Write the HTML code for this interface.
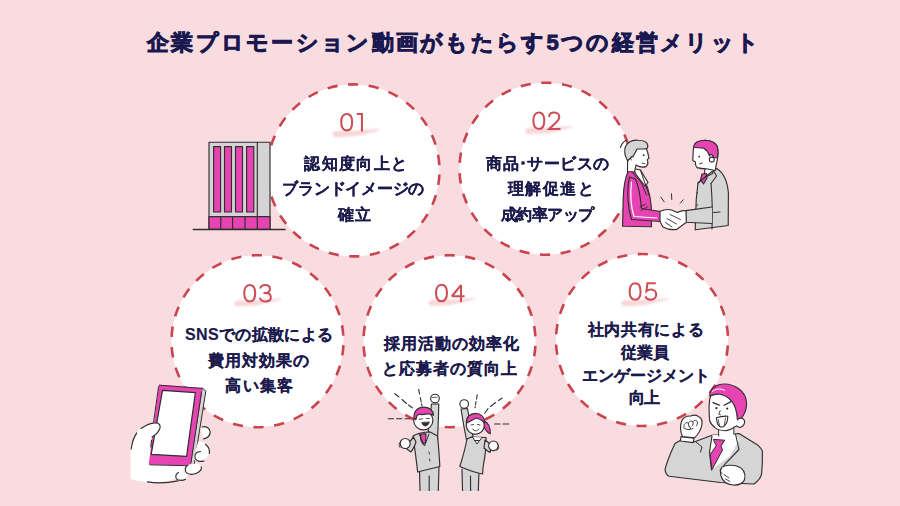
<!DOCTYPE html>
<html lang="ja">
<head>
<meta charset="utf-8">
<style>
html,body{margin:0;padding:0;}
body{width:900px;height:506px;overflow:hidden;position:relative;background:#f8dcdf;font-family:"Liberation Sans",sans-serif;}
#bg{position:absolute;left:0;top:0;}
.title{position:absolute;font-size:22px;line-height:30px;font-weight:700;color:#1a1850;letter-spacing:2.2px;-webkit-text-stroke:0.9px #1a1850;white-space:nowrap;}
.num{position:absolute;font-size:27.5px;line-height:30px;color:#c9464f;white-space:nowrap;}
.ln{position:absolute;font-size:16px;line-height:25px;font-weight:700;color:#1c1a4d;-webkit-text-stroke:0.15px #1c1a4d;white-space:nowrap;}
#fg{position:absolute;left:0;top:0;}
</style>
</head>
<body>
<svg id="bg" width="900" height="506" viewBox="0 0 900 506">
  <defs>
    <filter id="blur" x="-20%" y="-50%" width="140%" height="200%"><feGaussianBlur stdDeviation="0.8"/></filter>
  </defs>
  <g fill="#fff" stroke="#c9444e" stroke-width="2.6" stroke-dasharray="10.3 10.48">
    <circle cx="353.5" cy="170.4" r="86" stroke-dashoffset="16.54"/>
    <circle cx="545.5" cy="168.7" r="86" stroke-dashoffset="15.29"/>
    <circle cx="257.5" cy="341.2" r="86" stroke-dashoffset="16.79"/>
    <circle cx="449.5" cy="341.2" r="86" stroke-dashoffset="16.04"/>
    <circle cx="642" cy="340" r="86" stroke-dashoffset="15.29"/>
  </g>
  <!-- brush strokes under numbers -->
  <g filter="url(#blur)">
    <g transform="translate(332.3 128.5)"><path d="M0.5 5.5C0.5 3.5 2 2.8 6 2.6L30 2C38 1.2 44 0.5 48 1C47 2.5 42 3.5 36 4.5L28 6.5C20 8.2 10 8.8 3 8.5C1.2 8.2 0.5 7 0.5 5.5Z" fill="#f3b2b4" opacity="0.62"/><path d="M2 4.2L30 3.6M3 6.3L26 5.6M5 7.6L18 7.2M33 3.1L45 1.6" stroke="#fff" stroke-width="0.7" opacity="0.45" fill="none"/></g>
    <g transform="translate(525 125.5)"><path d="M0.5 5.5C0.5 3.5 2 2.8 6 2.6L30 2C38 1.2 44 0.5 48 1C47 2.5 42 3.5 36 4.5L28 6.5C20 8.2 10 8.8 3 8.5C1.2 8.2 0.5 7 0.5 5.5Z" fill="#f3b2b4" opacity="0.62"/><path d="M2 4.2L30 3.6M3 6.3L26 5.6M5 7.6L18 7.2M33 3.1L45 1.6" stroke="#fff" stroke-width="0.7" opacity="0.45" fill="none"/></g>
    <g transform="translate(234 297.8)"><path d="M0.5 5.5C0.5 3.5 2 2.8 6 2.6L30 2C38 1.2 44 0.5 48 1C47 2.5 42 3.5 36 4.5L28 6.5C20 8.2 10 8.8 3 8.5C1.2 8.2 0.5 7 0.5 5.5Z" fill="#f3b2b4" opacity="0.62"/><path d="M2 4.2L30 3.6M3 6.3L26 5.6M5 7.6L18 7.2M33 3.1L45 1.6" stroke="#fff" stroke-width="0.7" opacity="0.45" fill="none"/></g>
    <g transform="translate(428.3 297.3)"><path d="M0.5 5.5C0.5 3.5 2 2.8 6 2.6L30 2C38 1.2 44 0.5 48 1C47 2.5 42 3.5 36 4.5L28 6.5C20 8.2 10 8.8 3 8.5C1.2 8.2 0.5 7 0.5 5.5Z" fill="#f3b2b4" opacity="0.62"/><path d="M2 4.2L30 3.6M3 6.3L26 5.6M5 7.6L18 7.2M33 3.1L45 1.6" stroke="#fff" stroke-width="0.7" opacity="0.45" fill="none"/></g>
    <g transform="translate(621 297.6)"><path d="M0.5 5.5C0.5 3.5 2 2.8 6 2.6L30 2C38 1.2 44 0.5 48 1C47 2.5 42 3.5 36 4.5L28 6.5C20 8.2 10 8.8 3 8.5C1.2 8.2 0.5 7 0.5 5.5Z" fill="#f3b2b4" opacity="0.62"/><path d="M2 4.2L30 3.6M3 6.3L26 5.6M5 7.6L18 7.2M33 3.1L45 1.6" stroke="#fff" stroke-width="0.7" opacity="0.45" fill="none"/></g>
  </g>
  <g fill="none" stroke="#ce4d56" stroke-width="2.05">
    <g transform="translate(340.2 112.9)"><path d="M6.5 1.05C10.4 1.05 11.95 4.6 11.95 9.25C11.95 13.9 10.4 17.45 6.5 17.45C2.6 17.45 1.05 13.9 1.05 9.25C1.05 4.6 2.6 1.05 6.5 1.05Z"/></g>
    <g transform="translate(356.8 112.9)"><path d="M0 1.05H5.15V18.5"/></g>
    <g transform="translate(532.3 111.5)"><path d="M6.5 1.05C10.4 1.05 11.95 4.6 11.95 9.25C11.95 13.9 10.4 17.45 6.5 17.45C2.6 17.45 1.05 13.9 1.05 9.25C1.05 4.6 2.6 1.05 6.5 1.05Z"/></g>
    <g transform="translate(547.7 111.5)"><path d="M1.3 5.3C1.5 2.6 3.7 1.05 6.6 1.05C9.6 1.05 11.6 3 11.6 5.4C11.6 7.7 10.2 9.2 8.4 10.9L1.4 17.4H12.8"/></g>
    <g transform="translate(243.2 284.0)"><path d="M6.5 1.05C10.4 1.05 11.95 4.6 11.95 9.25C11.95 13.9 10.4 17.45 6.5 17.45C2.6 17.45 1.05 13.9 1.05 9.25C1.05 4.6 2.6 1.05 6.5 1.05Z"/></g>
    <g transform="translate(258.9 284.0)"><path d="M1.2 4.6C1.8 2.4 3.9 1.05 6.4 1.05C9.3 1.05 11 2.8 11 5C11 7.4 9.1 8.9 6.4 8.9H4.6M6.4 8.9C9.7 8.9 11.9 10.6 11.9 13.2C11.9 15.8 9.6 17.4 6.4 17.4C3.6 17.4 1.6 15.9 1 13.7"/></g>
    <g transform="translate(435 283.8)"><path d="M6.5 1.05C10.4 1.05 11.95 4.6 11.95 9.25C11.95 13.9 10.4 17.45 6.5 17.45C2.6 17.45 1.05 13.9 1.05 9.25C1.05 4.6 2.6 1.05 6.5 1.05Z"/></g>
    <g transform="translate(450.6 283.8)"><path stroke-linejoin="bevel" d="M10.4 18.4V1.3L1.3 12.45H14"/></g>
    <g transform="translate(628.6 282.3)"><path d="M6.5 1.05C10.4 1.05 11.95 4.6 11.95 9.25C11.95 13.9 10.4 17.45 6.5 17.45C2.6 17.45 1.05 13.9 1.05 9.25C1.05 4.6 2.6 1.05 6.5 1.05Z"/></g>
    <g transform="translate(644.2 282.3)"><path d="M11.6 1.05H3.2L2.2 8.9C3.5 7.8 5 7.2 6.8 7.2C10 7.2 12 9.4 12 12.3C12 15.4 9.7 17.4 6.5 17.4C4 17.4 2 16.1 1.1 14.1"/></g>
  </g>
</svg>

<div class="title" style="left:147.1px;top:28.1px;letter-spacing:2.28px">企業プロモーション動画がもたらす5つの経営メリット</div>




<div class="ln" style="left:304.3px;top:151.3px;letter-spacing:1.34px">認知度向上と</div>
<div class="ln" style="left:282.4px;top:176.1px;letter-spacing:-0.26px">ブランドイメージの</div>
<div class="ln" style="left:338.1px;top:202px;letter-spacing:1.0px">確立</div>
<div class="ln" style="left:486.4px;top:151.3px;letter-spacing:0.36px">商品･サービスの</div>
<div class="ln" style="left:508.1px;top:175.9px;letter-spacing:1.38px">理解促進と</div>
<div class="ln" style="left:500.5px;top:201.5px;letter-spacing:-0.46px">成約率アップ</div>
<div class="ln" style="left:185px;top:322.2px;letter-spacing:0.34px">SNSでの拡散による</div>
<div class="ln" style="left:208.1px;top:347.5px;letter-spacing:0.98px">費用対効果の</div>
<div class="ln" style="left:225.3px;top:373.2px;letter-spacing:1.23px">高い集客</div>
<div class="ln" style="left:383.5px;top:330.8px;letter-spacing:1.0px">採用活動の効率化</div>
<div class="ln" style="left:382.2px;top:355.8px;letter-spacing:0.94px">と応募者の質向上</div>
<div class="ln" style="left:587.5px;top:317px;letter-spacing:0.68px">社内共有による</div>
<div class="ln" style="left:620.5px;top:340px;letter-spacing:0.25px">従業員</div>
<div class="ln" style="left:581.7px;top:363px;letter-spacing:0.1px">エンゲージメント</div>
<div class="ln" style="left:628.7px;top:385.1px;letter-spacing:-0.3px">向上</div>

<svg id="fg" width="900" height="506" viewBox="0 0 900 506">
<g stroke="#332d2e" stroke-width="1.15" stroke-linejoin="round" stroke-linecap="round">
  <!-- building -->
  <g id="building">
    <rect x="209" y="142.2" width="61" height="87" fill="#d4d4d6"/>
    <rect x="209" y="216.6" width="61" height="12.6" fill="#e644b2"/>
    <path d="M257.3 142.2V229.2M220.8 216.6V229.2M232.6 216.6V229.2M245 216.6V229.2" fill="none"/>
    <g fill="#e644b2">
      <rect x="213.6" y="146.6" width="7" height="65.4"/>
      <rect x="224.5" y="146.6" width="7" height="65.4"/>
      <rect x="235.5" y="146.6" width="7" height="65.4"/>
      <rect x="246.6" y="146.6" width="7.2" height="65.4"/>
    </g>
    <path d="M193.3 229.4H285" fill="none" stroke-width="1.5"/>
  </g>

  <!-- phone in hand -->
  <g id="phone">
    <!-- palm (behind phone) -->
    <path d="M130.5 447 C131.5 440 134 434.5 138 431 C142 428 147 426 152 424.5 L170 440 L186 462 L182 476 C172 481 160 483 148 482 C141 481.5 135.5 480.5 130.5 479 Z" fill="#fff" stroke="none"/>
    <path d="M138 431.5 C134 436 132 442 131.2 449" fill="none" stroke-width="1.2"/>
    <path d="M147.5 481.8 C157 483.5 168 483 178 480.8" fill="none" stroke-width="1.2"/>
    <!-- phone side (gray) -->
    <path d="M202.5 388 L205.8 391.3 L193.8 466.5 L190.5 465.5 Z" fill="#d5d5d6" stroke-width="1"/>
    <!-- phone body -->
    <path d="M159 384.8 L202.5 388 L190.5 465.5 L148.7 464.5 Z" fill="#e644b2" stroke="none"/>
    <path d="M162.5 390.4 L195.4 392.6 L186.6 456.3 L151.2 454.4 Z" fill="#fff" stroke-width="1.2"/>
    <path d="M159.5 385.2 L202 388.4 M158.6 386.5 L152.5 430 M191 463 L201.5 392" fill="none" stroke-width="1"/>
    <path d="M150 464.8 L189.5 465.8" fill="none" stroke-width="1"/>
    <!-- thumb -->
    <path d="M137 431.5 C143 426.5 149.5 423.5 155 422.8 C159 422.5 161 425.5 159.5 429 C158 433 154.5 436 151.5 437.5 L150.5 445 C145 446 139 442 137 437 Z" fill="#fff" stroke="none"/>
    <path d="M141 428.5 C146 425 151 423 155 422.8 C159 422.5 161.2 425.5 159.8 428.8 C158.5 432 155.5 435 152 437" fill="none" stroke-width="1.2"/>
    <path d="M151.5 440 L150.8 447" fill="none" stroke-width="1.1"/>
    <!-- fingers -->
    <path d="M200.5 427.5 C204.5 425.5 209 427 210.2 431 C211 435.5 207.5 439 203.5 439 Z" fill="#fff" stroke="none"/>
    <path d="M202 427 C206.5 425.8 210 428.5 210.2 432 C210.3 435.8 207 438.5 203.5 438.8" fill="none" stroke-width="1.2"/>
    <path d="M198 442 C203 441 208.5 443.5 209.5 448.5 C210.5 453.5 207 458.5 203 460 C199 462 194.5 461.5 193.5 458 Z" fill="#fff" stroke="none"/>
    <path d="M205.5 444.2 C208.5 446.5 209.8 450 209.3 453.3" fill="none" stroke-width="1.2"/>
    <path d="M200.5 451.5 C196.5 451.5 194 454.5 195 458 C196 461 200 462.2 204 461" fill="none" stroke-width="1.2"/>
    <path d="M186 466 C190 463.5 197 463 201.5 465.5 C203 468.5 199 473 193 474.8 C188 476 184.5 473 184.5 470 Z" fill="#fff" stroke="none"/>
    <path d="M188 465 C185.5 466.5 184.5 469.5 186 472 C188 475 193.5 475 197 473 C200 471.5 202 469 201.2 466.8" fill="none" stroke-width="1.2"/>
    <path d="M176 473.5 C180 471.5 185 472 187 475 C188 478 185.5 480 182 480.5 C178.5 481 175.5 479.5 175 477 Z" fill="#fff" stroke="none"/>
    <path d="M178.5 472.5 C175.8 473.8 175 476.8 176.5 478.8 C178.5 481 183 480.8 185.5 479.2" fill="none" stroke-width="1.2"/>
  </g>

  <!-- cheering people -->
  <g id="cheer">
    <!-- motion lines left -->
    <path d="M394.8 393.7 L399 397 M402 399.5 L406.5 403.5 M408.5 405 L412.2 407.8" fill="none" stroke-width="1.1"/>
    <path d="M418.7 389.3 L419.5 394 M420.3 397.5 L421.2 402 M421.5 404 L422 405.7" fill="none" stroke-width="1.1"/>
    <path d="M388.3 418.7 L393.5 418.7 M396.5 418.7 L402 418.7 M405 418.7 L410 418.7" fill="none" stroke-width="1.1"/>
    <!-- man legs -->
    <path d="M419.5 470 L420 491 L438.3 491 L439 466 Z" fill="#d5d5d6" stroke="none"/><path d="M419.5 470 L420 490.4 M429.2 476 L429.2 490.4 M439 466 L438.3 490.4" fill="none"/>
    <!-- man raised arm -->
    <path d="M431.5 404 C430.5 413 429.5 422 428 431 L437.5 440 C438 428 438.6 416 438.8 404 Z" fill="#d5d5d6"/>
    <circle cx="435" cy="398.5" r="4.3" fill="#fff"/>
    <path d="M432.5 397.5 L437 397.3" fill="none" stroke-width="0.8"/>
    <!-- man body -->
    <path d="M413 436 C418 433 424 432 430 432 L437.5 436 C438.5 446 439.5 457 439.8 466.5 L417.6 472 C416.5 460 414.5 448 413 436 Z" fill="#d5d5d6"/>
    <path d="M420.5 434 L426 433.8 L425.6 442.8 L422.8 444 L420.8 440 Z" fill="#e644b2"/>
    <path d="M419 433.8 L424.5 446 L429 434" fill="none" stroke-width="1"/>
    <path d="M429 452 L429.5 454 M429.5 459 L430 461" fill="none" stroke-width="0.9"/>
    <!-- man left arm + fist -->
    <path d="M413.5 437 C410 441 407.5 445 405.5 448 L411 452 C413 449 415 446 416 442 Z" fill="#d5d5d6"/>
    <circle cx="405.2" cy="443.5" r="5" fill="#fff"/>
    <path d="M400.8 441.5 C399 442.5 398.5 445.5 400 447.5" fill="none" stroke-width="0.9"/>
    <!-- man head -->
    <g transform="translate(1.3 -3.2)">
    <circle cx="422" cy="423.5" r="9.6" fill="#fff"/>
    <path d="M412.8 421.5 C412 415 416 410.5 422 410.3 C428 410.2 432 413.5 432.2 418.5 C429 416.5 425 416.8 421 418 C418.5 416.5 416.5 417.5 415.5 419.5 L414.5 423 Z" fill="#e644b2"/>
    <path d="M418 422.5 L421 422 M425 421.5 L428 421.8" fill="none" stroke-width="0.9"/>
    <path d="M420.5 426 C422 430.5 426.5 430.5 428 425.5 Z" fill="#332d2e" stroke-width="0.8"/>
    </g>
    <!-- woman motion lines -->
    <path d="M477.2 394.8 L476.5 399 M476 401.5 L475.5 405 M475.2 406.5 L475 407.8" fill="none" stroke-width="1.1"/>
    <path d="M502.2 398 L498.5 400.5 M495.5 402.5 L490.5 406.5 M488 408.5 L484.8 413.3" fill="none" stroke-width="1.1"/>
    <path d="M494.6 424 L500 424 M503 424 L508.7 424" fill="none" stroke-width="1.1"/>
    <!-- woman legs -->
    <path d="M462 469 L462.5 491 L478.3 491 L479 471 Z" fill="#d5d5d6" stroke="none"/><path d="M462 469 L462.5 490.4 M470.5 476 L470.6 490.4 M479 471 L478.3 490.4" fill="none"/>
    <!-- woman raised arm -->
    <path d="M461 409 C462.5 419 464.5 430 466.5 440 L473 436.5 C471 427 469 418 467.5 408.5 Z" fill="#d5d5d6"/>
    <circle cx="464.2" cy="404" r="4.3" fill="#fff"/>
    <!-- woman body -->
    <path d="M471.5 437 L486 437.5 C486.5 447 485 457 483 467.5 L482.6 474 C476 473 468 470 459.8 466.5 C462.5 458 465.5 447 467 439 Z" fill="#d5d5d6"/>
    <path d="M472.5 437 L477 444 L482 437.5" fill="#fff" stroke-width="1"/>
    <path d="M475 440.5 L479 440.5" fill="none" stroke-width="1.2"/>
    <!-- woman right arm + fist -->
    <path d="M485 440 C488 442 490.5 444.5 492 446 L490 452.5 C487.5 451 485.5 449.5 484 448 Z" fill="#d5d5d6"/>
    <circle cx="493.4" cy="445.8" r="4.8" fill="#fff"/>
    <path d="M497.9 444.6 C499.4 446.1 498.9 449.1 496.9 450.6" fill="none" stroke-width="0.9"/>
    <!-- woman head -->
    <g transform="translate(-1 -3)">
    <path d="M485 424 C489 425.5 491.5 430 491.3 436.8 C488 436 486 432 484.5 429 Z" fill="#e644b2"/>
    <circle cx="476.3" cy="428.3" r="9" fill="#fff"/>
    <path d="M467.4 426 C467 420 471 416.5 476.5 416.4 C482 416.4 485.5 420 485.8 425.5 C483 423.5 480 421.5 477 421 C474 422.5 471 425 467.4 426 Z" fill="#e644b2"/>
    <path d="M472 428 L474.5 427.5 M478.5 427.5 L481 428" fill="none" stroke-width="0.9"/>
    <path d="M473.5 432 C475 434.5 478.5 434.5 480 432" fill="none" stroke-width="0.9"/>
    </g>
  </g>

  <!-- businessman -->
  <g id="boss">
    <!-- body suit -->
    <path d="M675 443.5 C671 452 667 461 665 469.6 C665.5 473 667 475.5 669.2 476.3 L720.5 482.5 L754 484 C758 481 761 477 761.6 473.8 C762.5 465 762.5 457 762.4 451.1 C760 446 757 444 754 442.7 L739 433.5 L712 435.2 L694 442 C690 441 684 441 681 440 Z" fill="#d5d5d6"/>
    <!-- shirt -->
    <path d="M712 435.2 L735.5 433.5 L739 440 L730 456 L712.5 469 L710.5 450 Z" fill="#fff" stroke="none"/>
    <!-- tie -->
    <path d="M713.7 439.4 L724.7 440.2 L721 446 L722.5 450 L712 469.6 L710 455 L716 446 Z" fill="#e644b2" stroke-width="1"/>
    <!-- lapels -->
    <path d="M712 436 L709.5 452 L711.5 470 M735.5 434 L739 449.5 L723.8 465.4" fill="none" stroke-width="1.1"/>
    <path d="M696 442 L702 447 L700.5 452" fill="none" stroke-width="1"/>
    <!-- arm cuff + raised fist -->
    <path d="M681 436.6 L694 438.2 L693.2 442.6 L680.4 441 Z" fill="#fff" stroke-width="1.1"/>
    <path d="M682.5 436.5 C680.5 432 680 426 681.5 421.5 C683 417.5 687 415.8 691 416 C693 415 696 415 698.5 416.5 C701.5 418 702.5 421.5 701.8 425 C701 429.5 698.5 434 694.5 437.8 Z" fill="#fff"/>
    <path d="M684.2 428.5 C683.2 425.5 684.5 422.5 687.2 422.6 C688.6 422.7 689 424.5 688.6 426 M688.4 423.4 C688.8 420.8 691.6 420.2 692.8 422 C693.4 423.2 693 425 692.2 426 M692.8 422 C693.6 419.8 696.6 419.6 697.4 421.8 C697.9 423.3 697.2 425 696.2 426 M685 428.8 C687.5 430 690.5 429.8 693 428.4 M689.5 426.2 L690.5 428.8" fill="none" stroke-width="0.9"/>
    <!-- lower fist -->
    <path d="M722 467 C726 465 733 464.5 738 466.5 C743 468.5 745.5 473 744.8 478.5 C744 483 739 485.5 733 485 C727 484.5 722.5 481 721 476 C720 472 720.5 469 722 467 Z" fill="#fff"/>
    <path d="M721.5 468 C719.5 469 719.5 472.5 722 473 M724 474.5 L729 478 M725.5 479 L730 481.5" fill="none" stroke-width="0.9"/>
    <!-- neck -->
    <path d="M718 427 L718.5 436.5 L733.5 435 L734 426 Z" fill="#fff" stroke="none"/>
    <path d="M718.5 428 L718.7 436 M733.8 427 L734 434.5" fill="none" stroke-width="1"/>
    <!-- head -->
    <path d="M709.8 396 C709.5 391 713 387 718 385 C724 383.2 732 384.2 738.5 388.5 C743.5 392 746.6 398 746.6 404 C746.6 410 744 415.5 740.2 419.5 L737 419.5 C737 412 735.5 406.5 731 401 C727.5 397 722 394.2 716.5 394.5 C714 394.8 711.5 395.5 709.8 396 Z" fill="#e644b2"/>
    <path d="M712 391.8 C715.5 388.5 720.5 388 724.5 390.5" fill="none" stroke="#fff" stroke-width="1"/>
    <path d="M710.5 396 C713 394.6 716.5 394 719.5 394.2 C724 394.6 728.5 397.5 732 401.5 C735 405.5 736.8 411 737.4 419.5 L740 421.7 L740.5 424 C737.8 425.4 735.8 426.6 734.8 426.8 C731 429.6 727.8 430.8 724.5 430.7 C720.5 430.4 717.5 429.5 715.6 428.1 C712.5 425.8 710.4 423.2 709.6 420.5 C709.1 415 709 410 709.1 406 C709.3 402 709.7 398.5 710.5 396 Z" fill="#fff"/>
    <path d="M737.6 419.6 C739.5 417.4 743 417.6 744.3 420.2 C745.4 422.8 743.8 426.2 740.8 427.2 C739.3 427.6 737.8 427 737 426" fill="#fff"/>
    <path d="M713 402.6 L719.3 405.2 M724.2 405.2 L731 401.6" fill="none" stroke-width="1.3"/>
    <circle cx="716.4" cy="408.2" r="1.1" fill="#332d2e" stroke="none"/>
    <circle cx="727.2" cy="408.6" r="1.1" fill="#332d2e" stroke="none"/>
    <path d="M720.2 410.5 L718.8 414.2 L720.5 414.8" fill="none" stroke-width="0.9"/>
    <path d="M716.3 417.8 C719.5 416.6 724 416 727.8 416.2 C727.8 420.5 726.4 424.8 723.2 426.8 C720.2 427.6 718 425.8 717.3 423 Z" fill="#fff" stroke-width="1.1"/>
    <path d="M718.2 419.5 L719.5 425.5 M725.5 418 L724.3 425.8" fill="none" stroke-width="0.8"/>
  </g>
  <!-- handshake -->
  <g id="handshake">
    <!-- motion arc near left head -->
    <path d="M620.5 147.5 C621.5 143.5 623.5 141.5 626.5 140" fill="none" stroke-width="1.1"/>
    <!-- left man body (pink jacket) -->
    <path d="M628.5 170.5 C625 178 623.5 188 623.2 198 L622.6 226.2 L651.5 226.8 L651.2 206 C650.5 196 647 183 640 170.2 Z" fill="#e644b2"/>
    <!-- shirt collar -->
    <path d="M633 168.5 L640.5 170 L648 182.5 L645 186 L636.5 175 Z" fill="#fff"/>
    <path d="M640.5 170.5 L649.5 196" fill="none" stroke-width="1"/>
    <!-- lapel -->
    <path d="M631.5 171.5 L641.5 183 L646.5 195" fill="none" stroke-width="1"/>
    <!-- left arm -->
    <path d="M629.5 177 C626.5 190 627.5 207 631.5 219.5 L660.5 221.5 L660.5 211.5 L641.5 208.5 C640.5 198 639 187 635.5 179 Z" fill="#e644b2"/>
    <path d="M631.5 182 C630 195 631 207 634 216.5 L657 218" fill="none" stroke="#fff" stroke-width="1.2"/>
    <path d="M640 207 L646 204 M641 210.5 L648 206.5" fill="none" stroke-width="0.9"/>
    <!-- left head -->
    <path d="M627.5 160.5 C624.5 156 624 150 625.5 146.5 C628 141.5 633 139.8 638 140.2 C643 140.3 647.5 142 647.8 145.5 C648 147.5 646.8 148.8 645.5 149 Z" fill="#d5d5d6"/>
    <path d="M637 149 L646.5 149 C647.8 152 648.4 155 649 158.3 L647.2 159.6 C648.2 162 647.8 165 646 166.6 C643 167.6 639 166.8 636 165 L634.5 172 L627.5 171.5 L627.6 161 C629.5 159 631.5 157 633 156.5 C634.5 154 636 151.5 637 149 Z" fill="#fff"/>
    <path d="M633 156.5 C630.5 155.5 629.5 158.5 631.5 160" fill="none" stroke-width="1"/>
    <circle cx="643.6" cy="155.2" r="0.9" fill="#2e2a2b" stroke="none"/>
    <path d="M642 163 L645 163.8" fill="none" stroke-width="0.9"/>
    <!-- right man body (gray suit) -->
    <path d="M716.7 168.5 C722.5 172 727.2 180 728.4 192.7 L728.2 225.5 L695.2 229.8 L696.2 200 L698 183 C703 178 710 173 716.7 168.5 Z" fill="#d5d5d6"/>
    <path d="M711 183.5 C712 195 712.5 215 712 229" fill="none" stroke-width="1.1"/>
    <path d="M713.5 212.5 L720 212" fill="none" stroke-width="1.1"/>
    <circle cx="697.2" cy="193" r="0.7" fill="#2e2a2b" stroke="none"/>
    <circle cx="697.2" cy="205" r="0.7" fill="#2e2a2b" stroke="none"/>
    <circle cx="697.2" cy="218" r="0.7" fill="#2e2a2b" stroke="none"/>
    <!-- collar + tie -->
    <path d="M705 168.5 L714 167.5 L712.5 173.5 L704 178 Z" fill="#fff"/>
    <path d="M702 174 L706.5 173.5 L707 178 L703.5 184 L700.5 180 Z" fill="#e644b2"/>
    <path d="M698 183 L712 171.5 M713.5 170.5 L716.5 176 L711 183.5" fill="none" stroke-width="1.1"/>
    <!-- right arm sleeve -->
    <path d="M712 207 L685.6 210.6 L685.6 222.3 L712 223.5" fill="#d5d5d6"/>
    <!-- right head -->
    <path d="M693.6 147.2 C694 143 698 140.5 704.8 140.2 C711 140.3 716.5 143 717.6 148 C718.3 152 718 156 717.6 158 C717 162 716 166 715.2 170.5 L707.7 169 C704 168.8 700 168.4 697 167.6 C695.5 166 695.2 163.8 695.4 162 L692.8 160.6 C693 157 693 152 693.6 147.2 Z" fill="#fff"/>
    <path d="M693.6 147.2 C694 143 698 140.5 704.8 140.2 C711 140.3 716.5 143 717.6 148 C718.3 152 718 155.5 717.4 157.8 L713.8 157.6 C712.5 155 711 153 709.6 156 C708.5 152.5 706.5 150 703.8 148.3 Z" fill="#e644b2"/>
    <circle cx="711.8" cy="159.6" r="2.5" fill="#fff" stroke-width="1.1"/>
    <circle cx="699.2" cy="156.6" r="0.9" fill="#2e2a2b" stroke="none"/>
    <path d="M699.5 164 L702.5 163" fill="none" stroke-width="0.9"/>
    <!-- clasped hands -->
    <path d="M660 211.3 C664 209.5 668 209 671.5 210 L677.5 212.5 C681 210.5 684 210.3 686 211 L686.3 222.5 C683 224.5 680 227 676.5 229.5 C672 230 666.5 229 663 227 L660 221.5 Z" fill="#fff"/>
    <path d="M670 214.5 L680.5 219.5 M667 218.5 L676.5 224 M665.5 222.5 L672 227" fill="none" stroke-width="0.9"/>
    <!-- sparks -->
    <path d="M660.8 197.2 L664.2 201.8 M671.5 193.8 L671.8 199.5 M683.2 199.8 L680.3 203.2" fill="none" stroke-width="1"/>
  </g>

</g>
</svg>
</body>
</html>
